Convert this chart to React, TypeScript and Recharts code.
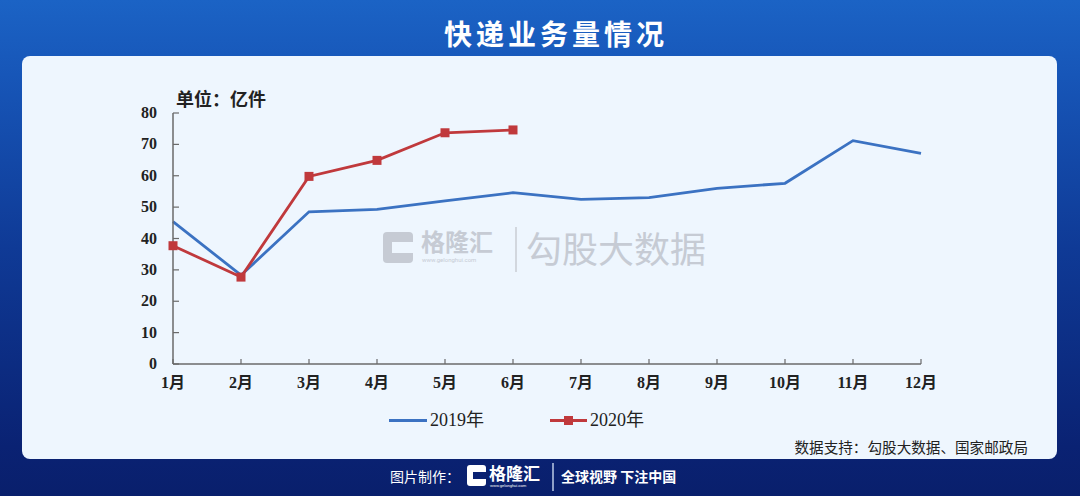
import React from "react";
import { LineChart, Line, XAxis, YAxis } from "recharts";

const months = ["1月", "2月", "3月", "4月", "5月", "6月", "7月", "8月", "9月", "10月", "11月", "12月"];
const volume2019 = [45.4, 28.3, 48.5, 49.3, 52.0, 54.6, 52.5, 53.0, 56.0, 57.6, 71.2, 67.1];
const volume2020 = [37.7, 27.7, 59.8, 64.9, 73.7, 74.6];
const yTicks = [0, 10, 20, 30, 40, 50, 60, 70, 80];

const data = months.map((m, i) => ({
  month: m,
  y2019: volume2019[i],
  y2020: i < volume2020.length ? volume2020[i] : null,
}));

const BLUE = "#3b72c2";
const RED = "#c0393c";
const AXIS = "#6a6a6a";
const SERIF = '"Liberation Serif", "Noto Sans CJK SC", serif';
const CJK = '"Noto Sans CJK SC", sans-serif';

const YTick = (props: any) => {
  const { x, y, payload } = props;
  return (
    <g>
      <line x1={x} x2={x + 6} y1={y} y2={y} stroke={AXIS} strokeWidth={1.2} />
      <text x={x - 16} y={y} dy={5} textAnchor="end" fontFamily={SERIF} fontWeight="bold" fontSize={16} fill="#222">
        {payload.value}
      </text>
    </g>
  );
};

const XTick = (props: any) => {
  const { x, y, payload } = props;
  return (
    <g>
      <line x1={x} x2={x} y1={y - 5} y2={y} stroke={AXIS} strokeWidth={1.2} />
      <text x={x} y={y + 24} textAnchor="middle" fontFamily={SERIF} fontWeight="bold" fontSize={16} fill="#222">
        {payload.value}
      </text>
    </g>
  );
};

const SquareDot = (props: any) => {
  const { cx, cy, value } = props;
  if (value == null || cx == null) return null;
  return <rect x={cx - 4.5} y={cy - 4.5} width={9} height={9} fill={RED} />;
};

export default function App() {
  return (
    <div
      style={{
        position: "fixed",
        left: 0,
        top: 0,
        width: 1080,
        height: 496,
        overflow: "hidden",
        background: "linear-gradient(180deg, #1b63c5 0%, #1756b8 15%, #0f3a96 50%, #0a2273 90%, #091f6c 100%)",
        fontFamily: CJK,
      }}
    >
      <div
        style={{
          position: "absolute",
          top: 13,
          left: 444,
          color: "#fff",
          fontSize: 28,
          letterSpacing: 4,
          fontWeight: "bold",
          lineHeight: "40px",
          whiteSpace: "nowrap",
        }}
      >
        快递业务量情况
      </div>

      <div
        style={{
          position: "absolute",
          left: 22,
          top: 56,
          width: 1035,
          height: 403,
          background: "#eef6fe",
          borderRadius: 8,
        }}
      />

      {/* watermark */}
      <div style={{ position: "absolute", left: 383, top: 232, width: 30, height: 31, background: "#c6cbd4", borderRadius: 4 }}>
        <div style={{ position: "absolute", left: 9, top: 10, width: 21, height: 11, background: "#eef6fe" }} />
      </div>
      <div style={{ position: "absolute", left: 421, top: 226, color: "#c6cbd4", fontSize: 24, fontWeight: "bold", lineHeight: "30px" }}>
        格隆汇
      </div>
      <div style={{ position: "absolute", left: 422, top: 256, color: "#c6cbd4", fontSize: 6, lineHeight: "8px", fontFamily: "Roboto" }}>
        www.gelonghui.com
      </div>
      <div style={{ position: "absolute", left: 515, top: 227, width: 1.5, height: 45, background: "#d2d7de" }} />
      <div style={{ position: "absolute", left: 526, top: 224, color: "#c6cbd4", fontSize: 36, lineHeight: "46px" }}>
        勾股大数据
      </div>

      <div style={{ position: "absolute", left: 176, top: 86, fontSize: 18, fontWeight: "bold", color: "#222", lineHeight: "24px" }}>
        单位：亿件
      </div>

      <div style={{ position: "absolute", left: 0, top: 0 }}>
        <LineChart width={1080} height={496} data={data} margin={{ top: 113, right: 159, bottom: 92, left: 113 }}>
          <XAxis
            dataKey="month"
            scale="point"
            padding={{ left: 0, right: 0 }}
            height={40}
            tickSize={0}
            tickMargin={0}
            tick={<XTick />}
            axisLine={{ stroke: AXIS, strokeWidth: 1.5 }}
            interval={0}
          />
          <YAxis
            domain={[0, 80]}
            ticks={yTicks}
            width={60}
            tickSize={0}
            tickMargin={0}
            tick={<YTick />}
            axisLine={{ stroke: AXIS, strokeWidth: 1.5 }}
            interval={0}
          />
          <Line
            type="linear"
            dataKey="y2019"
            stroke={BLUE}
            strokeWidth={2.8}
            dot={false}
            activeDot={false}
            isAnimationActive={false}
          />
          <Line
            type="linear"
            dataKey="y2020"
            stroke={RED}
            strokeWidth={2.8}
            dot={<SquareDot />}
            activeDot={false}
            connectNulls={false}
            isAnimationActive={false}
          />
        </LineChart>
      </div>

      {/* legend */}
      <div style={{ position: "absolute", left: 389, top: 419, width: 38, height: 3, background: BLUE }} />
      <div style={{ position: "absolute", left: 430, top: 409, fontFamily: SERIF, fontSize: 18, color: "#222", lineHeight: "22px" }}>
        2019年
      </div>
      <div style={{ position: "absolute", left: 550, top: 419, width: 37, height: 3, background: RED }} />
      <div style={{ position: "absolute", left: 564, top: 416, width: 9, height: 9, background: RED }} />
      <div style={{ position: "absolute", left: 590, top: 409, fontFamily: SERIF, fontSize: 18, color: "#222", lineHeight: "22px" }}>
        2020年
      </div>

      <div style={{ position: "absolute", right: 1080 - 1028, top: 437, fontSize: 14.6, color: "#222", lineHeight: "20px" }}>
        数据支持：勾股大数据、国家邮政局
      </div>

      {/* footer */}
      <div style={{ position: "absolute", left: 390, top: 466, color: "#fff", fontSize: 14, lineHeight: "20px" }}>
        图片制作：
      </div>
      <div style={{ position: "absolute", left: 467, top: 465, width: 19, height: 21, background: "#fff", borderRadius: 3 }}>
        <div style={{ position: "absolute", left: 6, top: 7, width: 13, height: 7, background: "#0a2273" }} />
      </div>
      <div style={{ position: "absolute", left: 489, top: 462, color: "#fff", fontSize: 17, fontWeight: "bold", lineHeight: "22px" }}>
        格隆汇
      </div>
      <div style={{ position: "absolute", left: 490, top: 483, color: "#fff", fontSize: 4, lineHeight: "5px", fontFamily: "Roboto" }}>
        www.gelonghui.com
      </div>
      <div style={{ position: "absolute", left: 552, top: 463, width: 1.5, height: 28, background: "#8fa0c8" }} />
      <div style={{ position: "absolute", left: 561, top: 466, color: "#fff", fontSize: 14, fontWeight: "bold", lineHeight: "20px" }}>
        全球视野 下注中国
      </div>
    </div>
  );
}
